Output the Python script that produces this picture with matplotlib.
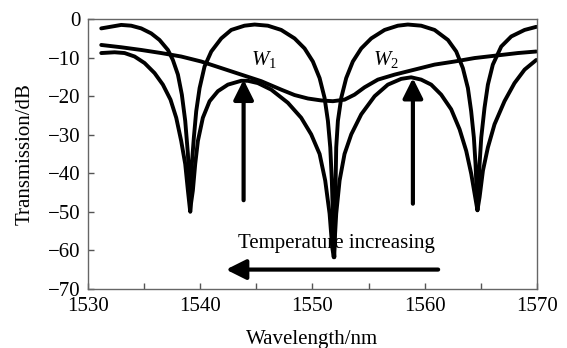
import numpy as np
import matplotlib.pyplot as plt

plt.rcParams['font.family'] = ['Liberation Serif', 'DejaVu Serif']
plt.rcParams['mathtext.fontset'] = 'custom'
plt.rcParams['mathtext.rm'] = 'Liberation Serif'
plt.rcParams['mathtext.it'] = 'Liberation Serif:italic'

# top comb (narrow deep notches, maxima near -2 dB)
wl_a = [1531.19, 1532.38, 1532.97, 1533.86, 1534.75, 1535.64, 1536.38, 1537.13, 1537.57, 1538.02,
        1538.37, 1538.67, 1538.91, 1539.06, 1539.12, 1539.26, 1539.44, 1539.65, 1539.95, 1540.39,
        1540.99, 1541.88, 1542.77, 1543.95, 1544.85, 1546.03, 1547.22, 1548.41, 1549.30, 1550.04,
        1550.64, 1551.08, 1551.38, 1551.59, 1551.73, 1551.82, 1551.88, 1551.95, 1552.12, 1552.27,
        1552.57, 1553.01, 1553.60, 1554.35, 1555.24, 1556.43, 1557.61, 1558.50, 1559.69, 1560.88,
        1562.07, 1562.81, 1563.40, 1563.85, 1564.14, 1564.38, 1564.53, 1564.65, 1564.70, 1564.89,
        1565.04, 1565.33, 1565.63, 1566.07, 1566.82, 1567.71, 1568.90, 1569.94]
t_a = [-2.4, -1.8, -1.5, -1.7, -2.4, -3.7, -5.4, -8.0, -10.6, -14.4,
       -19.6, -26.4, -35.0, -44.5, -50.0, -37.6, -30.7, -23.9, -17.9, -12.3,
       -8.4, -5.0, -2.8, -1.7, -1.4, -1.7, -2.8, -5.0, -7.6, -11.0,
       -15.3, -20.4, -26.4, -33.3, -41.9, -50.5, -59.1, -61.8, -33.3, -26.4,
       -20.4, -15.3, -11.0, -7.6, -5.0, -2.8, -1.7, -1.4, -1.7, -2.8,
       -5.4, -8.4, -12.7, -17.9, -23.9, -30.7, -37.6, -46.2, -49.6, -37.6,
       -30.7, -23.0, -17.0, -11.8, -7.1, -4.5, -2.8, -2.0]

# lower comb (broader notches, maxima near -15 dB)
wl_b = [1531.19, 1532.38, 1533.27, 1534.16, 1535.05, 1535.94, 1536.68, 1537.36, 1537.87, 1538.31,
        1538.67, 1538.91, 1539.10, 1539.35, 1539.56, 1539.80, 1540.24, 1540.84, 1541.58, 1542.47,
        1543.66, 1544.25, 1545.14, 1546.33, 1547.81, 1549.00, 1549.89, 1550.64, 1551.14, 1551.53,
        1551.76, 1551.90, 1552.12, 1552.42, 1552.86, 1553.46, 1554.35, 1555.54, 1556.72, 1557.91,
        1558.80, 1559.69, 1560.58, 1561.47, 1562.36, 1563.11, 1563.70, 1564.15, 1564.50, 1564.70,
        1564.89, 1565.19, 1565.63, 1566.22, 1567.11, 1568.00, 1568.90, 1569.94]
t_b = [-8.8, -8.6, -8.8, -9.7, -11.4, -14.0, -17.0, -20.9, -25.6, -31.6,
       -37.6, -44.5, -49.6, -44.5, -37.6, -31.6, -25.6, -21.3, -18.7, -17.0,
       -16.0, -16.0, -16.6, -18.3, -21.7, -25.6, -29.9, -35.0, -41.9, -50.5,
       -59.1, -61.8, -50.5, -41.9, -35.0, -29.9, -24.7, -20.0, -17.0, -15.5,
       -15.1, -15.7, -17.0, -19.6, -23.4, -28.6, -34.2, -40.2, -46.2, -49.6,
       -46.2, -39.3, -33.3, -27.3, -21.3, -16.6, -13.1, -10.6]

# smooth envelope
wl_c = [1531.19, 1532.97, 1534.75, 1536.53, 1538.31, 1540.10, 1541.88, 1543.66, 1545.44, 1547.22,
        1548.41, 1549.60, 1550.78, 1551.82, 1552.86, 1553.75, 1554.64, 1555.83, 1557.32, 1559.10,
        1560.88, 1562.66, 1564.44, 1566.22, 1568.30, 1569.94]
t_c = [-6.7, -7.3, -8.0, -8.8, -9.7, -11.0, -12.7, -14.4, -16.1, -18.3,
       -19.7, -20.6, -21.1, -21.3, -20.9, -19.6, -17.7, -15.7, -14.4, -13.1,
       -11.8, -11.0, -10.1, -9.5, -8.8, -8.4]

fig = plt.figure(figsize=(5.67, 3.48), dpi=100)
ax = fig.add_axes([0.155, 0.170, 0.792, 0.775])

for wl, t in [(wl_a, t_a), (wl_b, t_b), (wl_c, t_c)]:
    ax.plot(wl, t, color='black', lw=2.8, solid_capstyle='round', solid_joinstyle='round')

ax.set_xlim(1530, 1570)
ax.set_ylim(-70, 0)
ax.set_xticks(np.arange(1530, 1571, 10))
ax.set_xticks(np.arange(1535, 1570, 10), minor=True)
ax.set_yticks(np.arange(-70, 1, 10))
ax.tick_params(which='both', direction='in', length=4, width=1, color='#555555', labelsize=15)
ax.tick_params(axis='x', pad=6)
ax.tick_params(axis='y', pad=5)
for lab in ax.get_yticklabels():
    lab.set_verticalalignment('center_baseline')
for s in ax.spines.values():
    s.set_color('#666666')
    s.set_linewidth(1)

ax.set_xlabel('Wavelength/nm', fontsize=15, labelpad=10)
ax.set_ylabel('Transmission/dB', fontsize=15, labelpad=10)

# annotations
ax.text(1544.55, -11.9, r'$W_1$', fontsize=15, va='baseline', ha='left')
ax.text(1555.4, -11.9, r'$W_2$', fontsize=15, va='baseline', ha='left')
ax.text(1543.4, -59.4, 'Temperature increasing', fontsize=15, va='baseline', ha='left')

arrow = dict(arrowstyle='-|>,head_length=1.2,head_width=0.6', lw=3, color='black',
             shrinkA=0, shrinkB=0, mutation_scale=10)
ax.annotate('', xy=(1543.87, -15.7), xytext=(1543.87, -47.0), arrowprops=arrow)
ax.annotate('', xy=(1558.95, -15.3), xytext=(1558.95, -47.9), arrowprops=arrow)
ax.annotate('', xy=(1542.3, -65.0), xytext=(1561.2, -65.0), arrowprops=arrow)

fig.savefig('out.png', dpi=100)
